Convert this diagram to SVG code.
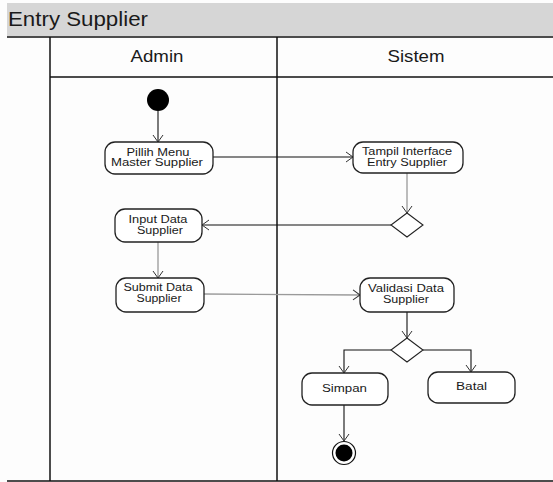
<svg xmlns="http://www.w3.org/2000/svg" width="553" height="482" viewBox="0 0 553 482">
<style>
.t{font-family:"Liberation Sans",Arial,sans-serif;fill:#1a1a1a}
.n{font-size:10px;text-anchor:middle}
.box{fill:#fff;stroke:#222;stroke-width:1.3}
.c{fill:none;stroke:#111;stroke-width:1.1}
.g{fill:none;stroke:#9a9a9a;stroke-width:1.3}
.ln{stroke:#111;stroke-width:1.5}
</style>
<defs>
<marker id="a" markerWidth="12" markerHeight="12" refX="10" refY="6" orient="auto" markerUnits="userSpaceOnUse">
<polyline points="3,1 10,6 3,11" fill="none" stroke="#333" stroke-width="1"/>
</marker>
</defs>
<rect x="0" y="0" width="553" height="482" fill="#fdfdfd"/>
<g id="frame">
<rect x="7" y="3" width="546" height="33" fill="#d6d6d6"/>
<text class="t" x="8" y="26" font-size="21" textLength="140" lengthAdjust="spacingAndGlyphs">Entry Supplier</text>
<line class="ln" x1="7" y1="37" x2="553" y2="37"/>
<line class="ln" x1="50" y1="77" x2="553" y2="77"/>
<line class="ln" x1="50" y1="37" x2="50" y2="481"/>
<line class="ln" x1="277" y1="37" x2="277" y2="481"/>
<line class="ln" x1="7" y1="481" x2="553" y2="481"/>
<text class="t" x="157" y="62" font-size="17" text-anchor="middle" textLength="53" lengthAdjust="spacingAndGlyphs">Admin</text>
<text class="t" x="416" y="62" font-size="17" text-anchor="middle" textLength="57" lengthAdjust="spacingAndGlyphs">Sistem</text>
</g>
<g id="connectors">
<line class="c" x1="158" y1="111" x2="158" y2="142" marker-end="url(#a)"/>
<line class="c" x1="213" y1="157" x2="353" y2="157" marker-end="url(#a)"/>
<line class="g" x1="407" y1="173" x2="407" y2="213" marker-end="url(#a)"/>
<line class="c" x1="391" y1="225" x2="202" y2="225" marker-end="url(#a)"/>
<line class="g" x1="158" y1="242" x2="158" y2="278" marker-end="url(#a)"/>
<line class="g" x1="204" y1="294" x2="360" y2="295" marker-end="url(#a)"/>
<line class="c" x1="407" y1="312" x2="407" y2="338" marker-end="url(#a)"/>
<polyline class="c" points="392,350 344,350 344,373" marker-end="url(#a)"/>
<polyline class="c" points="423,350 471,350 471,372" marker-end="url(#a)"/>
<line class="c" x1="344" y1="405" x2="344" y2="441" marker-end="url(#a)"/>
</g>
<g id="start"><circle cx="158" cy="100" r="11" fill="#000"/></g>
<g id="pilih">
<rect class="box" x="105" y="142" width="108" height="32" rx="10"/>
<text class="t n" x="158" y="156" textLength="63" lengthAdjust="spacingAndGlyphs">Pillih Menu</text>
<text class="t n" x="157" y="166" textLength="92" lengthAdjust="spacingAndGlyphs">Master Supplier</text>
</g>
<g id="tampil">
<rect class="box" x="353" y="142" width="110" height="31" rx="10"/>
<text class="t n" x="407" y="155" textLength="90" lengthAdjust="spacingAndGlyphs">Tampil Interface</text>
<text class="t n" x="407" y="166" textLength="80" lengthAdjust="spacingAndGlyphs">Entry Supplier</text>
</g>
<g id="dec1"><polygon points="407,213 423,225 407,237 391,225" fill="#fff" stroke="#222" stroke-width="1.1"/></g>
<g id="input">
<rect class="box" x="115" y="209" width="87" height="33" rx="10"/>
<text class="t n" x="158" y="223" textLength="59" lengthAdjust="spacingAndGlyphs">Input Data</text>
<text class="t n" x="160" y="234" textLength="46" lengthAdjust="spacingAndGlyphs">Supplier</text>
</g>
<g id="submit">
<rect class="box" x="116" y="278" width="88" height="34" rx="10"/>
<text class="t n" x="158" y="291" textLength="69" lengthAdjust="spacingAndGlyphs">Submit Data</text>
<text class="t n" x="159" y="302" textLength="45" lengthAdjust="spacingAndGlyphs">Supplier</text>
</g>
<g id="validasi">
<rect class="box" x="360" y="278" width="94" height="34" rx="10"/>
<text class="t n" x="406" y="292" textLength="76" lengthAdjust="spacingAndGlyphs">Validasi Data</text>
<text class="t n" x="406" y="303" textLength="46" lengthAdjust="spacingAndGlyphs">Supplier</text>
</g>
<g id="dec2"><polygon points="407,338 423,350 407,362 391,350" fill="#fff" stroke="#222" stroke-width="1.1"/></g>
<g id="simpan">
<rect class="box" x="302" y="373" width="86" height="32" rx="10"/>
<text class="t n" x="344.5" y="392" textLength="45" lengthAdjust="spacingAndGlyphs">Simpan</text>
</g>
<g id="batal">
<rect class="box" x="428" y="372" width="87" height="31" rx="10"/>
<text class="t n" x="471.5" y="390" textLength="31" lengthAdjust="spacingAndGlyphs">Batal</text>
</g>
<g id="end">
<circle cx="344" cy="453" r="11.5" fill="#fff" stroke="#111" stroke-width="1.2"/>
<circle cx="344" cy="453" r="8.5" fill="#000"/>
</g>
</svg>
